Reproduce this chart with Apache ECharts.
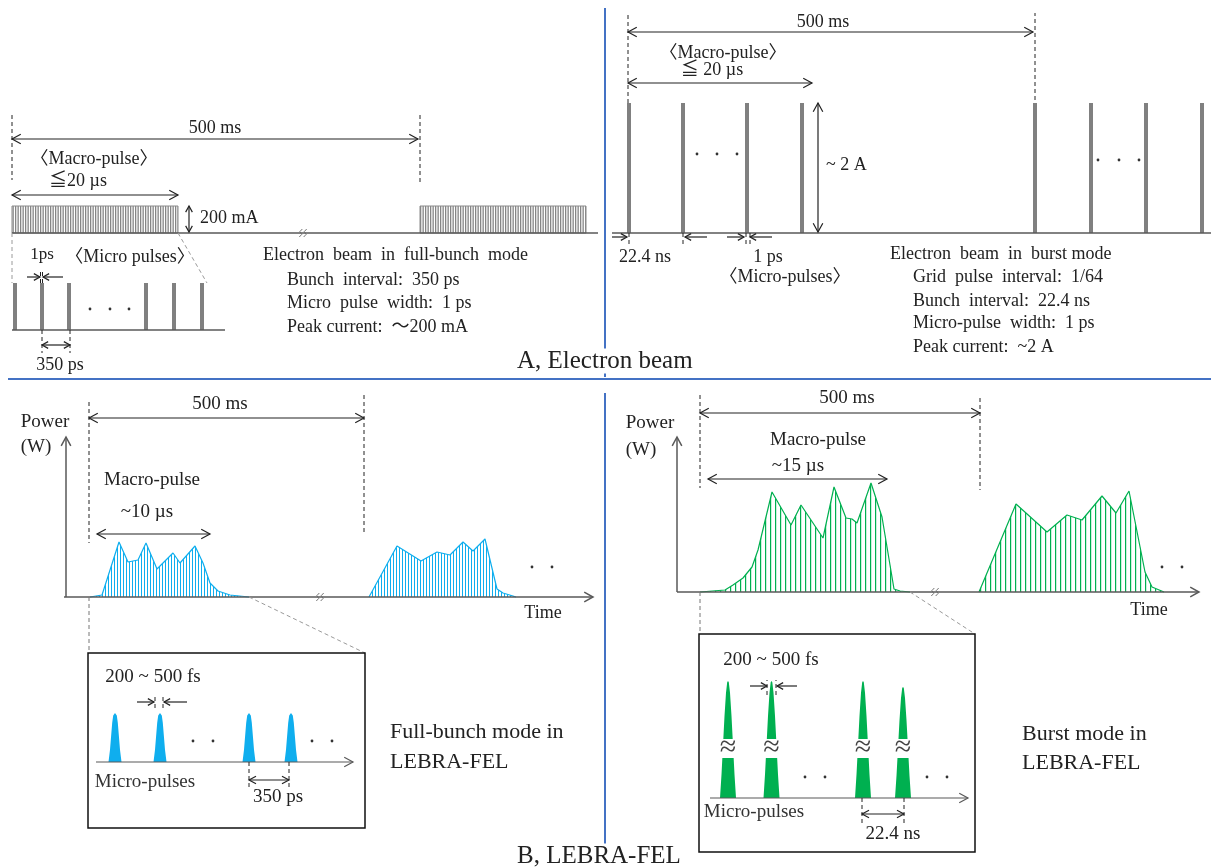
<!DOCTYPE html>
<html><head><meta charset="utf-8">
<script src="https://cdn.jsdelivr.net/npm/echarts@6/dist/echarts.min.js"></script>
<style>html,body{margin:0;padding:0;background:#fff}#c{width:1211px;height:868px}</style>
</head><body><div id="c"></div><script>
// ================= DATA (schematic units along each panel's own axes) =================
// A, electron beam in full-bunch mode
const fbMacroStart = [0, 408];          // macro-pulse start times
const fbMacroWidth = 166;               // macro-pulse length (<=20 us)
const fbMacroHeight = 27;               // 200 mA
const fbMicroPos = [3, 30, 57, 134, 162, 190];   // micro-pulse times (350 ps apart)
const fbMicroHeight = 47;
// A, electron beam in burst mode
const bmMicroPos = [1, 55, 119, 174, 407, 463, 518, 574];
const bmMicroHeight = 130;              // ~2 A
// B, full-bunch FEL power envelopes
const fbPower1 = [[24,0],[36,2],[53,55],[62,35],[72,37],[80,54],[91,28],[107,44],[114,34],[129,51],[137,34],[144,14],[152,6],[164,2],[183,0]];
const fbPower2 = [[303,0],[331,51],[355,36],[371,45],[384,42],[397,55],[407,46],[419,58],[431,8],[437,4],[447,1],[450,0]];
// B, burst FEL power envelopes
const bmPower1 = [[23,0],[48,2],[56,7],[66,14],[75,25],[81,42],[95,100],[114,67],[124,87],[146,54],[157,105],[169,74],[175,73],[180,69],[194,109],[205,75],[217,3],[223,1],[233,0]];
const bmPower2 = [[302,0],[339,88],[370,60],[390,77],[405,72],[425,96],[439,79],[452,101],[468,20],[475,5],[487,0]];
// B insets: FEL micro-pulses
const fbFelMicroPos = [19, 64, 153, 195];
const fbFelMicroHeight = [49, 49, 49, 49];
const bmFelMicroPos = [18, 61.5, 153, 193];
const bmFelMicroHeight = [117, 117, 117, 111];

// ================= STYLE =================
const SERIF = '"Liberation Serif","Times New Roman","Noto Sans CJK JP",serif';
const INK = '#222', AX = '#595959', BAR = '#808080', BLUE = '#0FAEEE', GREEN = '#00B050', DIV = '#4472C4', CONN = '#9a9a9a';

function hatch(w, color, positions, lw) {
  const c = document.createElement('canvas'); c.width = w; c.height = 8;
  const g = c.getContext('2d'); g.fillStyle = '#fff'; g.fillRect(0, 0, w, 8);
  g.fillStyle = color; positions.forEach(p => g.fillRect(p, 0, lw, 8));
  return {image: c, repeat: 'repeat'};
}
const grayPat = hatch(5, '#858585', [0, 2.5], 1.3);
const bluePat = hatch(3, BLUE, [0], 1);
const greenPat = hatch(5, GREEN, [0], 1.2);

// ================= PANELS =================
const grids = [], xAxes = [], yAxes = [], series = [];
function panel(ox, oy, xr, yr) {
  const i = grids.length;
  grids.push({left: ox + xr[0], top: oy - yr[1], width: xr[1] - xr[0], height: yr[1] - yr[0]});
  xAxes.push({type: 'value', gridIndex: i, min: xr[0], max: xr[1], show: false});
  yAxes.push({type: 'value', gridIndex: i, min: yr[0], max: yr[1], show: false});
  return i;
}
const gA1 = panel(12, 233, [-12, 594], [-57, 133]);
const gA2 = panel(12, 330, [-12, 228], [-40, 90]);
const gA3 = panel(628, 233, [-22, 583], [-67, 233]);
const gB1 = panel(66, 597, [-66, 540], [-83, 217]);
const gB2 = panel(96, 762, [-16, 284], [-76, 119]);
const gB3 = panel(677, 592, [-71, 534], [-62, 212]);
const gB4 = panel(710, 798, [-21, 280], [-64, 174]);

// annotation helpers (in panel units)
const seg = (a, b, c, w, d) => ({t: 'line', a, b, c, w, d});
const dsh = (a, b, c) => ({t: 'line', a, b, c: c || INK, w: 1, d: [4, 3]});
const arr2 = (a, b, o) => Object.assign({t: 'arrow', a, b, h1: true, h2: true}, o || {});
const arr1 = (a, b, o) => Object.assign({t: 'arrow', a, b, h1: false, h2: true}, o || {});
const txt = (p, s, o) => Object.assign({t: 'text', p, s, align: 'center', size: 18}, o || {});
const dots = (pts) => ({t: 'dots', pts});
const box = (a, b) => ({t: 'box', a, b});
const brk = (x) => ({t: 'brk', x});

function head(tip, from, stroke, lw, len) {
  const dx = tip[0] - from[0], dy = tip[1] - from[1], d = Math.hypot(dx, dy) || 1;
  const ux = dx / d, uy = dy / d, a = 0.5, ca = Math.cos(a), sa = Math.sin(a);
  const p1 = [tip[0] - len * (ux * ca - uy * sa), tip[1] - len * (uy * ca + ux * sa)];
  const p2 = [tip[0] - len * (ux * ca + uy * sa), tip[1] - len * (uy * ca - ux * sa)];
  return {type: 'polyline', shape: {points: [p1, tip, p2]}, style: {stroke, lineWidth: lw, fill: null}};
}
function annSeries(gi, list) {
  return {
    type: 'custom', xAxisIndex: gi, yAxisIndex: gi, silent: true, z: 10, clip: false, data: [[0, 0]],
    renderItem(params, api) {
      const C = p => api.coord(p);
      const ch = [];
      for (const o of list) {
        if (o.t === 'line' || o.t === 'arrow') {
          const a = C(o.a), b = C(o.b), st = o.c || INK, lw = o.w || 1.2;
          ch.push({type: 'line', shape: {x1: a[0], y1: a[1], x2: b[0], y2: b[1]}, style: {stroke: st, lineWidth: lw, lineDash: o.d || null}});
          const len = o.len || 10;
          if (o.t === 'arrow') {
            if (o.h2) ch.push(head(b, a, st, lw, len));
            if (o.h1) ch.push(head(a, b, st, lw, len));
          }
        } else if (o.t === 'text') {
          const p = C(o.p);
          ch.push({type: 'text', x: p[0], y: p[1], style: {text: o.s, fill: o.c || INK, fontSize: o.size, fontFamily: SERIF,
            align: o.align, verticalAlign: 'middle', textAlign: o.align, textVerticalAlign: 'middle'}});
        } else if (o.t === 'dots') {
          o.pts.forEach(q => { const p = C(q); ch.push({type: 'circle', shape: {cx: p[0], cy: p[1], r: 1.4}, style: {fill: '#333'}}); });
        } else if (o.t === 'box') {
          const a = C(o.a), b = C(o.b);
          ch.push({type: 'rect', shape: {x: Math.min(a[0], b[0]), y: Math.min(a[1], b[1]), width: Math.abs(b[0] - a[0]), height: Math.abs(b[1] - a[1])},
            style: {fill: null, stroke: '#111', lineWidth: 1.5}});
        } else if (o.t === 'brk') {
          const p = C([o.x, 0]);
          [-2.2, 2.2].forEach(dx => ch.push({type: 'polyline', shape: {points: [[p[0] + dx + 1.5, p[1] - 4], [p[0] + dx - 1, p[1] - 1.3], [p[0] + dx + 1, p[1] + 1.3], [p[0] + dx - 1.5, p[1] + 4]]},
            style: {stroke: '#666', lineWidth: 0.9, fill: null}}));
        }
      }
      return {type: 'group', children: ch};
    }
  };
}

// ---- data marks ----
function rectSeries(gi, data, style) {
  return {type: 'custom', xAxisIndex: gi, yAxisIndex: gi, silent: true, z: 3, data, encode: {x: [0, 1], y: 2},
    renderItem(params, api) {
      const p0 = api.coord([api.value(0), 0]), p1 = api.coord([api.value(1), api.value(2)]);
      return {type: 'rect', shape: {x: p0[0], y: p1[1], width: p1[0] - p0[0], height: p0[1] - p1[1]}, style};
    }};
}
function barSeries(gi, pos, h) {
  return {type: 'custom', xAxisIndex: gi, yAxisIndex: gi, silent: true, z: 3, data: pos.map(x => [x, h]), encode: {x: 0, y: 1},
    renderItem(params, api) {
      const p0 = api.coord([api.value(0), 0]), p1 = api.coord([api.value(0), api.value(1)]);
      return {type: 'rect', shape: {x: p0[0] - 2, y: p1[1], width: 4, height: p0[1] - p1[1]}, style: {fill: BAR}};
    }};
}
function envSeries(gi, data, color, pat) {
  return {type: 'line', xAxisIndex: gi, yAxisIndex: gi, data, symbol: 'none', silent: true, z: 3,
    lineStyle: {color, width: 1.2}, areaStyle: {color: pat, opacity: 1}};
}
const blueShape = [[-6.5,0],[-5,0.25],[-3.8,0.55],[-2.8,0.8],[-1.8,0.95],[0,1],[1.8,0.95],[2.8,0.8],[3.8,0.55],[5,0.25],[6.5,0]];
const greenShape = [[-8,0],[-6.5,0.2],[-5,0.45],[-3.5,0.7],[-2,0.9],[-0.8,0.99],[0,1],[0.8,0.99],[2,0.9],[3.5,0.7],[5,0.45],[6.5,0.2],[8,0]];
function microSeries(gi, pos, hts, shape, color, gap) {
  return {type: 'custom', xAxisIndex: gi, yAxisIndex: gi, silent: true, z: 3, data: pos.map((x, i) => [x, hts[i]]), encode: {x: 0, y: 1},
    renderItem(params, api) {
      const x = api.value(0), h = api.value(1);
      const ch = [{type: 'polygon', shape: {points: shape.map(s => api.coord([x + s[0], s[1] * h]))}, style: {fill: color}}];
      if (gap) {
        const a = api.coord([x - 10, gap[1]]), b = api.coord([x + 10, gap[0]]);
        ch.push({type: 'rect', shape: {x: a[0], y: a[1], width: b[0] - a[0], height: b[1] - a[1]}, style: {fill: '#fff'}});
        const m = api.coord([x, (gap[0] + gap[1]) / 2]);
        ch.push({type: 'text', x: m[0], y: m[1], style: {text: '≈', fill: '#444', fontSize: 30, fontFamily: SERIF, align: 'center', verticalAlign: 'middle', textAlign: 'center', textVerticalAlign: 'middle'}});
      }
      return {type: 'group', children: ch};
    }};
}

series.push(rectSeries(gA1, fbMacroStart.map(s => [s, s + fbMacroWidth, fbMacroHeight]), {fill: grayPat, stroke: '#8a8a8a', lineWidth: 1}));
series.push(barSeries(gA2, fbMicroPos, fbMicroHeight));
series.push(barSeries(gA3, bmMicroPos, bmMicroHeight));
series.push(envSeries(gB1, fbPower1, BLUE, bluePat));
series.push(envSeries(gB1, fbPower2, BLUE, bluePat));
series.push(envSeries(gB3, bmPower1, GREEN, greenPat));
series.push(envSeries(gB3, bmPower2, GREEN, greenPat));
series.push(microSeries(gB2, fbFelMicroPos, fbFelMicroHeight, blueShape, BLUE, null));
series.push(microSeries(gB4, bmFelMicroPos, bmFelMicroHeight, greenShape, GREEN, [40, 59]));

// ---- annotations ----
series.push(annSeries(gA1, [
  seg([0, 0], [586, 0], AX, 1.5), brk(291),
  dsh([0, 118], [0, 53]), dsh([408, 118], [408, 51]),
  dsh([0, 0], [0, -50], CONN), dsh([166, 0], [195, -50], CONN),
  arr2([0, 94], [406, 94]), txt([203, 105], '500 ms'),
  txt([82, 74], '〈Macro-pulse〉'), txt([66, 52], '≦20 µs'),
  arr2([0, 38], [166, 38]),
  arr2([177, 1], [177, 27], {len: 7}), txt([188, 15], '200 mA', {align: 'left'})
]));
series.push(annSeries(gA2, [
  seg([0, 0], [213, 0], AX, 1.5),
  dots([[78, 21], [98, 21], [117, 21]]),
  txt([30, 75], '1ps', {size: 17}),
  arr1([15, 53], [28, 53], {len: 7}), arr1([51, 53], [31, 53], {len: 7}),
  dsh([28.5, 47], [28.5, 60]), dsh([30.5, 47], [30.5, 60]),
  txt([118, 73], '〈Micro pulses〉'),
  dsh([30, 0], [30, -23]), dsh([58, 0], [58, -23]),
  arr2([30, -15], [58, -15], {len: 7}), txt([48, -35], '350 ps')
]));
series.push(annSeries(gA3, [
  seg([-16, 0], [583, 0], AX, 1.5),
  dsh([0, 130], [0, 220]), dsh([407, 133], [407, 220]),
  arr2([0, 201], [405, 201]), txt([195, 211], '500 ms'),
  txt([95, 180], '〈Macro-pulse〉'), txt([84, 163], '≦ 20 µs'),
  arr2([0, 150], [184, 150]),
  arr2([190, 1], [190, 130]), txt([198, 68], '~ 2 A', {align: 'left'}),
  dots([[69, 79], [89, 79], [109, 79], [470, 73], [491, 73], [511, 73]]),
  arr1([-16, -4], [-1, -4], {len: 7}), arr1([79, -4], [57, -4], {len: 7}),
  dsh([1, 0], [1, -14]), dsh([55, 0], [55, -14]),
  txt([17, -24], '22.4 ns'),
  arr1([99, -4], [116, -4], {len: 7}), arr1([144, -4], [122, -4], {len: 7}),
  dsh([118, 0], [118, -14]), dsh([122, 0], [122, -14]),
  txt([140, -24], '1 ps'), txt([157, -44], '〈Micro-pulses〉')
]));
series.push(annSeries(gB1, [
  arr1([0, 0], [0, 160], {c: AX, w: 1.5}), arr1([-2, 0], [527, 0], {c: AX, w: 1.5}),
  txt([-21, 175], 'Power', {size: 19}), txt([-30, 150], '(W)', {size: 19}), txt([477, -16], 'Time'),
  dsh([23, 195], [23, 54]), dsh([23, 0], [23, -56], '#777'),
  dsh([298, 202], [298, 65]),
  arr2([23, 179], [298, 179]), txt([154, 193], '500 ms', {size: 19}),
  txt([86, 117], 'Macro-pulse', {size: 19}), txt([81, 85], '~10 µs', {size: 19}),
  arr2([31, 63], [144, 63]),
  brk(254), dots([[466, 30], [486, 30]]),
  dsh([183, 0], [299, -56], CONN)
]));
series.push(annSeries(gB2, [
  box([-8, -66], [269, 109]),
  arr1([0, 0], [257, 0], {c: AX, w: 1.2}),
  dots([[97, 21], [117, 21], [216, 21], [236, 21]]),
  txt([57, 85], '200 ~ 500 fs', {size: 19}),
  arr1([41, 60], [58, 60], {len: 7}), arr1([91, 60], [68, 60], {len: 7}),
  dsh([59, 54], [59, 66]), dsh([67, 54], [67, 66]),
  txt([49, -20], 'Micro-pulses', {size: 19, c: '#333'}),
  dsh([153, 0], [153, -28]), dsh([193, 0], [193, -28]),
  arr2([153, -18], [193, -18], {len: 8}), txt([182, -35], '350 ps', {size: 19})
]));
series.push(annSeries(gB3, [
  arr1([0, 0], [0, 155], {c: AX, w: 1.5}), arr1([0, 0], [522, 0], {c: AX, w: 1.5}),
  txt([-27, 169], 'Power', {size: 19}), txt([-36, 142], '(W)', {size: 19}), txt([472, -18], 'Time'),
  dsh([23, 197], [23, 104]), dsh([23, 0], [23, -42], '#777'),
  dsh([303, 194], [303, 102]),
  arr2([23, 179], [303, 179]), txt([170, 194], '500 ms', {size: 19}),
  txt([141, 152], 'Macro-pulse', {size: 19}), txt([121, 126], '~15 µs', {size: 19}),
  arr2([31, 113], [210, 113]),
  brk(258), dots([[485, 25], [505, 25]]),
  dsh([233, 0], [298, -42], CONN)
]));
series.push(annSeries(gB4, [
  box([-11, -54], [265, 164]),
  arr1([0, 0], [258, 0], {c: AX, w: 1.2}),
  dots([[95, 21], [115, 21], [217, 21], [237, 21]]),
  txt([61, 138], '200 ~ 500 fs', {size: 19}),
  arr1([40, 112], [57, 112], {len: 7}), arr1([87, 112], [67, 112], {len: 7}),
  dsh([57, 103], [57, 118]), dsh([66, 103], [66, 118]),
  txt([44, -14], 'Micro-pulses', {size: 19, c: '#333'}),
  dsh([152, 0], [152, -27]), dsh([194, 0], [194, -27]),
  arr2([152, -16], [194, -16], {len: 8}), txt([183, -36], '22.4 ns', {size: 19})
]));

// ---- page layout text & dividers ----
const T = (x, y, s, size, bg) => ({type: 'text', x, y, silent: true, z: 20, style: {text: s, fill: INK, fontSize: size || 18, fontFamily: SERIF, align: 'left', verticalAlign: 'middle', textAlign: 'left', textVerticalAlign: 'middle',
  backgroundColor: bg || null, padding: bg ? [0, 3, 0, 3] : 0}});
const graphic = [
  {type: 'line', silent: true, z: 1, shape: {x1: 8, y1: 379, x2: 1211, y2: 379}, style: {stroke: DIV, lineWidth: 2}},
  {type: 'line', silent: true, z: 1, shape: {x1: 605, y1: 8, x2: 605, y2: 377}, style: {stroke: DIV, lineWidth: 2}},
  {type: 'line', silent: true, z: 1, shape: {x1: 605, y1: 393, x2: 605, y2: 868}, style: {stroke: DIV, lineWidth: 2}},
  T(263, 255, 'Electron  beam  in  full-bunch  mode'),
  T(287, 280, 'Bunch  interval:  350 ps'),
  T(287, 303, 'Micro  pulse  width:  1 ps'),
  T(287, 327, 'Peak current:  ～200 mA'),
  T(890, 254, 'Electron  beam  in  burst mode'),
  T(913, 277, 'Grid  pulse  interval:  1/64'),
  T(913, 301, 'Bunch  interval:  22.4 ns'),
  T(913, 323, 'Micro-pulse  width:  1 ps'),
  T(913, 347, 'Peak current:  ~2 A'),
  T(514, 361, 'A, Electron beam', 25, '#fff'),
  T(514, 856, 'B, LEBRA-FEL', 25, '#fff'),
  T(390, 732, 'Full-bunch mode in', 22),
  T(390, 762, 'LEBRA-FEL', 22),
  T(1022, 734, 'Burst mode in', 22),
  T(1022, 763, 'LEBRA-FEL', 22)
];

const chart = echarts.init(document.getElementById('c'), null, {renderer: 'canvas'});
chart.setOption({animation: false, backgroundColor: '#fff', grid: grids, xAxis: xAxes, yAxis: yAxes, series, graphic});
</script></body></html>
